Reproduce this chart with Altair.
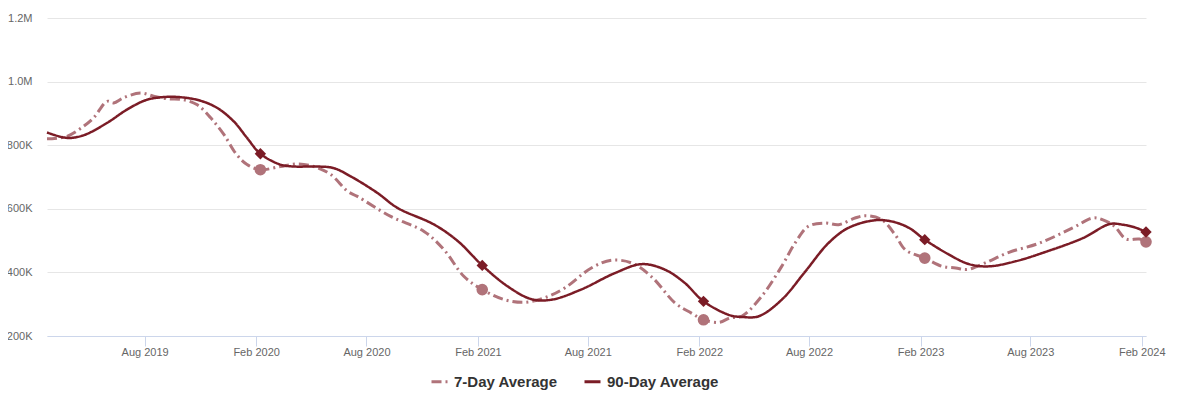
import altair as alt
import pandas as pd

# ---- data (values in thousands) ----
dates_90 = [
    "2019-02-21", "2019-03-26", "2019-04-22", "2019-05-31", "2019-07-03", "2019-08-05",
    "2019-09-07", "2019-10-04", "2019-11-01", "2019-11-29", "2019-12-26", "2020-01-17",
    "2020-02-08", "2020-03-12", "2020-04-03", "2020-05-12", "2020-06-08", "2020-07-06",
    "2020-08-19", "2020-09-21", "2020-11-21", "2020-12-30", "2021-02-08", "2021-03-22",
    "2021-04-30", "2021-06-02", "2021-07-21", "2021-09-15", "2021-10-29", "2021-12-06",
    "2022-01-08", "2022-02-08", "2022-03-24", "2022-04-12", "2022-05-10", "2022-06-17",
    "2022-07-26", "2022-09-02", "2022-10-05", "2022-11-18", "2022-12-16", "2023-01-13",
    "2023-02-08", "2023-03-20", "2023-04-22", "2023-05-25", "2023-07-08", "2023-08-21",
    "2023-10-27", "2023-12-10", "2024-01-01", "2024-01-23", "2024-02-08",
]
values_90 = [
    840, 823, 831, 870, 912, 943,
    952, 950, 940, 917, 875, 823,
    773, 739, 733, 733, 728, 702,
    650, 603, 550, 498, 422, 356,
    316, 314, 346, 398, 426, 409,
    367, 309, 265, 260, 262, 314,
    403, 492, 540, 564, 560, 540,
    503, 456, 426, 419, 435, 461,
    508, 552, 550, 540, 527,
]

dates_7 = [
    "2019-02-21", "2019-03-26", "2019-04-22", "2019-05-09", "2019-05-31", "2019-06-11",
    "2019-06-27", "2019-07-25", "2019-08-16", "2019-09-07", "2019-10-04", "2019-10-27",
    "2019-11-18", "2019-12-10", "2019-12-31", "2020-01-17", "2020-02-08", "2020-03-12",
    "2020-04-09", "2020-05-06", "2020-06-03", "2020-07-01", "2020-07-17", "2020-09-10",
    "2020-11-04", "2020-12-07", "2021-01-09", "2021-02-08", "2021-03-17", "2021-04-19",
    "2021-05-22", "2021-06-24", "2021-08-07", "2021-09-09", "2021-10-12", "2021-11-14",
    "2021-12-23", "2022-01-19", "2022-02-08", "2022-03-06", "2022-03-24", "2022-04-12",
    "2022-05-15", "2022-06-17", "2022-07-09", "2022-07-31", "2022-08-28", "2022-09-19",
    "2022-10-16", "2022-11-02", "2022-11-29", "2022-12-21", "2023-01-07", "2023-02-08",
    "2023-03-09", "2023-03-31", "2023-04-19", "2023-05-19", "2023-06-27", "2023-08-16",
    "2023-10-10", "2023-11-12", "2023-11-28", "2023-12-18", "2024-01-06", "2024-01-28",
    "2024-02-08",
]
values_7 = [
    820, 828, 859, 886, 938, 933,
    949, 964, 954, 946, 943, 927,
    886, 833, 770, 739, 723, 733,
    741, 733, 708, 655, 639, 576,
    529, 471, 387, 346, 314, 306,
    320, 351, 414, 438, 430, 387,
    304, 272, 251, 243, 257, 262,
    325, 419, 492, 545, 555, 550,
    571, 578, 566, 519, 471, 445,
    419, 414, 409, 430, 463, 492,
    540, 571, 566, 545, 505, 505,
    496,
]

marker_dates = ["2020-02-08", "2021-02-08", "2022-02-08", "2023-02-08", "2024-02-08"]

series_names = ["7-Day Average", "90-Day Average"]
y_ticks = [200000, 400000, 600000, 800000, 1000000, 1200000]

C7 = "#B0737A"
C90 = "#7B1C26"

df90 = pd.DataFrame({"date": dates_90, "value": [v * 1000 for v in values_90], "series": series_names[1]})
df7 = pd.DataFrame({"date": dates_7, "value": [v * 1000 for v in values_7], "series": series_names[0]})
m90 = df90[df90["date"].isin(marker_dates)]
m7 = df7[df7["date"].isin(marker_dates)]

x_ticks = [alt.DateTime(year=y, month=m, date=1, utc=True)
           for (y, m) in [(2019, 8), (2020, 2), (2020, 8), (2021, 2), (2021, 8),
                          (2022, 2), (2022, 8), (2023, 2), (2023, 8), (2024, 2)]]

x_enc = alt.X(
    "date:T",
    title=None,
    scale=alt.Scale(type="utc",
                    domain=[alt.DateTime(year=2019, month=2, date=21, utc=True),
                            alt.DateTime(year=2024, month=2, date=8, utc=True)]),
    axis=alt.Axis(values=x_ticks, labelExpr="utcFormat(datum.value, '%b %Y')",
                  grid=False, domainColor="#ccd6eb", tickColor="#ccd6eb", tickSize=10,
                  labelPadding=0, labelFontSize=11, labelColor="#666666",
                  labelFont="Liberation Sans", labelFlush=False, labelOverlap=False),
)
y_enc = alt.Y(
    "value:Q",
    title=None,
    scale=alt.Scale(domain=[200000, 1200000], nice=False, zero=False),
    axis=alt.Axis(values=y_ticks,
                  labelExpr="datum.value >= 1000000 ? format(datum.value/1000000, '.1f') + 'M' : format(datum.value/1000, 'd') + 'K'",
                  grid=True, gridColor="#e6e6e6", domain=False, ticks=False, tickSize=0,
                  labelPadding=15, labelFontSize=11, labelColor="#666666",
                  labelFont="Liberation Sans"),
)

color_enc = alt.Color("series:N", scale=alt.Scale(domain=series_names, range=[C7, C90]),
                      legend=alt.Legend(title=None))
dash_enc = alt.StrokeDash("series:N", scale=alt.Scale(domain=series_names, range=[[10, 4, 2, 4], [1, 0]]),
                          legend=alt.Legend(title=None))

line7 = alt.Chart(df7).mark_line(interpolate="catmull-rom", strokeWidth=3).encode(
    x=x_enc, y=y_enc, color=color_enc, strokeDash=dash_enc)
line90 = alt.Chart(df90).mark_line(interpolate="catmull-rom", strokeWidth=2.5).encode(
    x=x_enc, y=y_enc, color=color_enc, strokeDash=dash_enc)

pts7 = alt.Chart(m7).mark_point(shape="circle", filled=True, size=135, opacity=1, color=C7).encode(
    x=x_enc, y=y_enc)
pts90 = alt.Chart(m90).mark_point(shape="diamond", filled=True, size=130, opacity=1, color=C90).encode(
    x=x_enc, y=y_enc)

chart = alt.layer(line7, line90, pts7, pts90).properties(
    width=1099, height=318,
    autosize="none",
    padding={"left": 39, "top": 10, "right": 25, "bottom": 62},
).configure_view(stroke=None).configure_legend(
    orient="none", legendX=383, legendY=354, direction="horizontal",
    labelFontSize=15, labelFontWeight="bold", labelColor="#333333", labelFont="Liberation Sans",
    symbolType="stroke", symbolStrokeWidth=3, symbolSize=256, columnPadding=20,
    labelOffset=5, padding=0,
)

chart.save("out.html", embed_options={"renderer": "svg", "actions": False})
